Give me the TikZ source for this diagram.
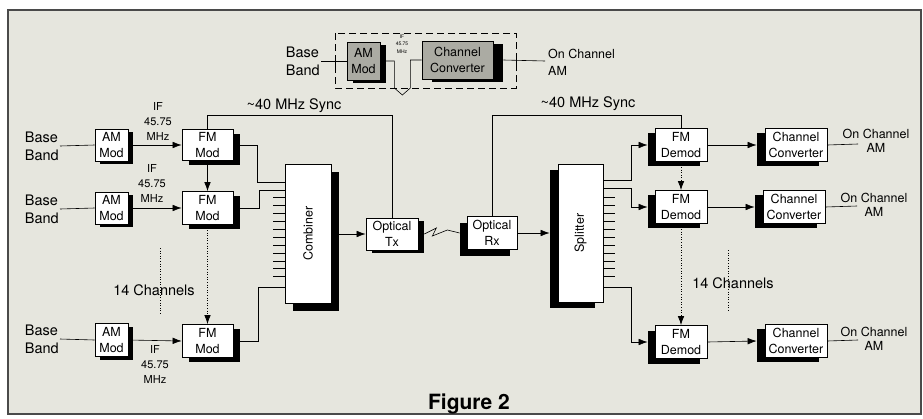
\documentclass[tikz,border=0pt]{standalone}
\usepackage{fontspec}
\setmainfont{TeX Gyre Heros}
\usetikzlibrary{arrows.meta,shadows}
\definecolor{paper}{HTML}{E6E6DE}
\definecolor{frameline}{HTML}{4A4A4A}
\definecolor{modgrey}{HTML}{ABABA3}
\tikzset{
  wire/.style={line width=0.6pt},
  sarrow/.style={-{Latex[length=9pt,width=6.5pt]}, line width=0.6pt},
  dotline/.style={line width=0.8pt, dash pattern=on 1pt off 1.6pt},
  blk/.style={draw, fill=white, line width=0.7pt, align=center, inner sep=0pt,
    font=\fontsize{12.5}{15.5}\selectfont},
  shR/.style 2 args={drop shadow={shadow xshift=#1, shadow yshift=#2, fill=black, opacity=1}},
  lbl/.style={align=left, inner sep=1pt, font=\fontsize{14.5}{18}\selectfont},
  outlbl/.style={align=center, inner sep=0pt, font=\fontsize{12.5}{14.5}\selectfont},
  iflbl/.style={align=center, inner sep=0pt, font=\fontsize{11}{15}\selectfont}
}

\begin{document}
\begin{tikzpicture}[x=1pt, y=-1pt]
    \useasboundingbox (0,0) rectangle (923,418);
    \fill[white] (0,0) rectangle (923,418);
    \fill[paper] (8,10) rectangle (921,414);
    \draw[frameline, line width=1.2pt] (8,10) rectangle (921,414);

    % inset
    \draw[line width=0.8pt, dash pattern=on 7pt off 4pt] (335,33) rectangle (516,88);
    \node[lbl, anchor=east] (bbi) at (321,61) {Base\\Band};
    \node[blk, fill=modgrey, minimum width=33pt, minimum height=38pt, shR={6pt}{-3pt}] (ami) at (363.5,61) {AM\\Mod};
    \node[blk, fill=modgrey, minimum width=71pt, minimum height=38pt, shR={10pt}{-3pt}] (cci) at (457.5,60) {Channel\\Converter};
    \node[align=center, inner sep=0pt, font=\fontsize{5}{7.5}\selectfont] (ifi) at (402,44) {IF\\45.75\\MHz};
    \node[outlbl, align=left, anchor=west, font=\fontsize{12.5}{17}\selectfont] (outi) at (548,62) {On Channel\\AM};
    \coordinate (oi) at (545,61);
    \draw[wire] (bbi.east) -- (ami.west);
    \draw[wire] (ami.east) -- ++(14,0) -- ++(0,27) -- ++(8,7) -- ++(8,-7) |- (cci.west);
    \draw[wire] ([xshift=10pt]cci.east) -- (oi);
    \draw[wire] (335,55) -- (335,67);
    \draw[wire] (516,55) -- (516,67);

    % transmit side
    \node[lbl, anchor=east] (bb1) at (60,146) {Base\\Band};
    \node[lbl, anchor=east] (bb2) at (60,209) {Base\\Band};
    \node[lbl, anchor=east] (bb3) at (60,339) {Base\\Band};
    \node[blk, minimum width=33pt, minimum height=32pt, shR={5pt}{-3pt}] (am1) at (111.5,145) {AM\\Mod};
    \node[blk, minimum width=33pt, minimum height=32pt, shR={5pt}{-3pt}] (am2) at (111.5,208) {AM\\Mod};
    \node[blk, minimum width=33pt, minimum height=33pt, shR={5pt}{-3pt}] (am3) at (111.5,340) {AM\\Mod};
    \node[blk, minimum width=51pt, minimum height=31pt, shR={7pt}{-4pt}] (fm1) at (207.5,145) {FM\\Mod};
    \node[blk, minimum width=51pt, minimum height=33pt, shR={7pt}{-4pt}] (fm2) at (207.5,208) {FM\\Mod};
    \node[blk, minimum width=51pt, minimum height=33pt, shR={7pt}{-4pt}] (fm3) at (207.5,341) {FM\\Mod};
    \node[iflbl] (if1) at (158,121) {IF\\45.75\\MHz};
    \node[iflbl] (if2) at (152,183) {IF\\45.75\\MHz};
    \node[iflbl] (if3) at (155,364) {IF\\45.75\\MHz};
    \node[lbl] (ch1) at (154,290) {14 Channels};
    \node[blk, minimum width=46pt, minimum height=139pt, shR={7.5pt}{-7.5pt}] (cmb) at (308,233.5) {};
    \node[rotate=90, font=\fontsize{12.5}{15}\selectfont] (cmbt) at (cmb.center) {Combiner};
    \node[blk, minimum width=52pt, minimum height=32pt, shR={6pt}{-3pt}] (tx) at (392,234) {Optical\\Tx};

    \draw[wire] (bb1.east) -- (am1.west);
    \draw[wire] (bb2.east) -- (am2.west);
    \draw[wire] (bb3.east) -- (am3.west);
    \draw[sarrow] (am1.east) -- (fm1.west);
    \draw[sarrow] (am2.east) -- (fm2.west);
    \draw[sarrow] (am3.east) -- (fm3.west);
    \draw[sarrow] (fm1.south) -- (fm2.north);
    \draw[sarrow, dotline] (fm2.south) -- (fm3.north);
    \coordinate (dl1) at (160,248);
    \coordinate (dl2) at (160,315);
    \draw[dotline] (dl1) -- (dl2);
    \draw[wire] (fm1.east) -- ++(24,0) |- (cmb.west |- 0,182);
    \draw[wire] (fm2.east) -- ++(26,0) |- (cmb.west |- 0,190);
    \draw[wire] (fm3.east) -- ++(25,0) |- (cmb.west |- 0,287);
    \foreach \i in {0,...,10}
      \draw[wire] (cmb.north west) ++(0,{34+7.9*\i}) -- ++(-12,0);
    \draw[sarrow] ([xshift=8pt]cmb.east |- tx.west) -- (tx.west);
    \draw[wire] (tx.north) -- (tx.north |- 0,115) -| (fm1.north);
    \node[lbl] (sync1) at (294,106) {\textasciitilde40 MHz Sync};

    % receive side
    \node[blk, minimum width=50pt, minimum height=33pt, shR={-7pt}{-6pt}] (rx) at (492,233) {Optical\\Rx};
    \node[blk, minimum width=45pt, minimum height=138pt, shR={-8pt}{-6pt}] (spl) at (580.5,233) {};
    \node[rotate=90, font=\fontsize{12.5}{15}\selectfont] (splt) at (spl.center) {Splitter};
    \node[blk, minimum width=52pt, minimum height=33pt, shR={-7pt}{-4pt}] (dm1) at (681,145) {FM\\Demod};
    \node[blk, minimum width=52pt, minimum height=33pt, shR={-7pt}{-4pt}] (dm2) at (681,207) {FM\\Demod};
    \node[blk, minimum width=52pt, minimum height=33pt, shR={-7pt}{-5pt}] (dm3) at (681,342) {FM\\Demod};
    \node[blk, minimum width=62pt, minimum height=33pt, shR={-8pt}{-4pt}] (cc1) at (796,145) {Channel\\Converter};
    \node[blk, minimum width=62pt, minimum height=33pt, shR={-8pt}{-4pt}] (cc2) at (794,207) {Channel\\Converter};
    \node[blk, minimum width=62pt, minimum height=33pt, shR={-8pt}{-4pt}] (cc3) at (796,341) {Channel\\Converter};
    \node[outlbl] (out1) at (876,141) {On Channel\\AM};
    \node[outlbl] (out2) at (874,205) {On Channel\\AM};
    \node[outlbl] (out3) at (874,339) {On Channel\\AM};
    \coordinate (o1) at (858,144);
    \coordinate (o2) at (857,206);
    \coordinate (o3) at (858,340);
    \node[lbl] (ch2) at (733,283) {14 Channels};

    \draw[wire] ([xshift=6pt]tx.east) -- ++(12,-6) -- ++(-4,8) -- ++(15,-6) -- ([xshift=-7pt]rx.west);
    \draw[sarrow] (rx.east) -- ([xshift=-8pt]spl.west |- rx.east);
    \foreach \i in {0,...,10}
      \draw[wire] (spl.north east) ++(0,{34+7.9*\i}) -- ++(12,0);
    \draw[sarrow] (spl.east |- 0,180) -- ++(28,0) |- ([xshift=-7pt]dm1.west);
    \draw[sarrow] (spl.east |- 0,188) -- ++(28,0) |- ([xshift=-7pt]dm2.west);
    \draw[sarrow] (spl.east |- 0,287) -- ++(28,0) |- ([xshift=-7pt]dm3.west);
    \draw[sarrow, dotline] (dm1.south) -- (dm2.north);
    \draw[sarrow, dotline] (dm2.south) -- (dm3.north);
    \coordinate (dr1) at (728,250);
    \coordinate (dr2) at (728,310);
    \draw[dotline] (dr1) -- (dr2);
    \draw[sarrow] (dm1.east) -- ([xshift=-8pt]cc1.west);
    \draw[sarrow] (dm2.east) -- ([xshift=-8pt]cc2.west);
    \draw[sarrow] (dm3.east) -- ([xshift=-8pt]cc3.west);
    \draw[wire] (cc1.east) -- (o1);
    \draw[wire] (cc2.east) -- (o2);
    \draw[wire] (cc3.east) -- (o3);
    \draw[wire] (rx.north) -- (rx.north |- 0,115) -| (dm1.north);
    \node[lbl] (sync2) at (588,104) {\textasciitilde40 MHz Sync};

    \node[font=\bfseries\fontsize{21}{24}\selectfont] (fig) at (469,404) {Figure 2};
\end{tikzpicture}
\end{document}
